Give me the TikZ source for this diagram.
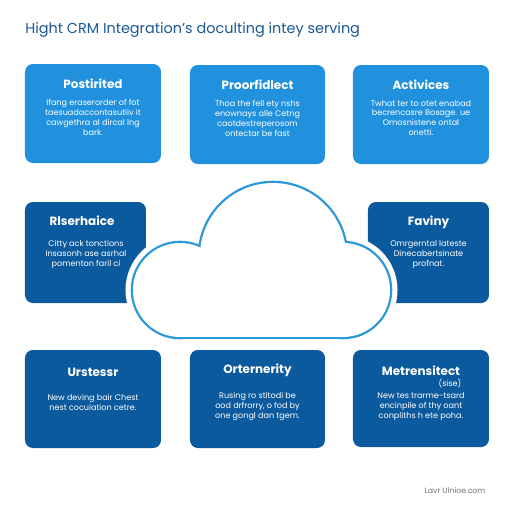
\documentclass[tikz,border=0pt]{standalone}
\usepackage{fontspec}
\setmainfont{Poppins}
\usetikzlibrary{positioning}
\definecolor{crmsky}{RGB}{33,145,222}
\definecolor{crmnavy}{RGB}{12,90,158}
\definecolor{crmline}{RGB}{45,152,216}
\definecolor{crmtitle}{RGB}{26,88,150}
\tikzset{
	panel/.style={rounded corners=4.5pt},
	paneltitle/.style={text=white, inner sep=0pt, font=\fontsize{6.8}{8}\selectfont\bfseries},
	panelbody/.style={text=white, inner sep=0pt, align=center, font=\fontsize{4.6}{5.67}\selectfont},
}

\begin{document}
\begin{tikzpicture}[x=0.02cm, y=-0.02cm]
			%%%%% START %%%%%
			\useasboundingbox (0, 0) rectangle (512, 512);
			\fill[white] (0, 0) rectangle (512, 512);
			
			\node[anchor=west, inner sep=0pt, text=crmtitle, font=\fontsize{8.2}{9}\selectfont] (heading) at (25, 30) {Hight CRM Integration’s doculting intey serving};
			
			%% top row
			\fill[panel, crmsky] (25, 64) rectangle (161, 163);
			\node[paneltitle] (postirited) at (93, 84) {Postirited};
			\node[panelbody] (postiritedtxt) at (93, 117) {Ifang eraserorder of fot\\taesuadaccontasutiiv it\\cawgethra al dircal lng\\bark.};
			
			\fill[panel, crmsky] (190, 65) rectangle (325, 164);
			\node[paneltitle] (proorfidlect) at (257.5, 85) {Proorfidlect};
			\node[panelbody] (proorfidlecttxt) at (257.5, 118) {Thoa the fell ety nshs\\enownays alle Cetng\\caotdestreperosom\\ontectar be fast};
			
			\fill[panel, crmsky] (353, 65) rectangle (489, 164);
			\node[paneltitle] (activices) at (421, 85) {Activices};
			\node[panelbody] (activicestxt) at (421, 118) {Twhat ter to otet enabad\\becrencasre Bosage. ue\\Omosnistene ontal\\onetti.};
			
			%% middle row
			\fill[panel, crmnavy] (25, 202) rectangle (146, 303);
			\node[paneltitle] (rlserhaice) at (82, 221) {Rlserhaice};
			\node[panelbody] (rlserhaicetxt) at (86, 254.5) {Citty ack tonctions\\Insasonh ase asrhal\\pomenton faril ci};
			
			\fill[panel, crmnavy] (368, 202) rectangle (489, 303);
			\node[paneltitle] (faviny) at (428.5, 222) {Faviny};
			\node[panelbody] (favinytxt) at (428.5, 255) {Omrgerntal lateste\\Dinecabertsinate\\profnat.};
			
			%% bottom row
			\fill[panel, crmnavy] (25, 350) rectangle (161, 448);
			\node[paneltitle] (urstessr) at (93, 372) {Urstessr};
			\node[panelbody] (urstessrtxt) at (93, 402.5) {New deving bair Chest\\nest cocuiation cetre.};
			
			\fill[panel, crmnavy] (190, 350) rectangle (325, 448);
			\node[paneltitle] (orternerity) at (257.5, 370) {Orternerity};
			\node[panelbody] (orternerittxt) at (257.5, 406.5) {Rusing ro stitodi be\\ood drfrorry, o fod by\\one gongl dan tgem.};
			
			\fill[panel, crmnavy] (353, 350) rectangle (489, 447);
			\node[paneltitle] (metrensitect) at (421, 371) {Metrensitect};
			\node[panelbody] (sise) at (450, 383) {(sise)};
			\node[panelbody] (metrensitecttxt) at (421, 407) {New tes trarme-tsard\\encinpile of thy oant\\conpliths h ete poha.};
			
			%% cloud: white halo, blue rim, white body
			\foreach \lw/\col in {15/white, 4.6/crmline}{
				\draw[line width=\lw*0.02cm, draw=\col] (180, 290) circle (47);
				\draw[line width=\lw*0.02cm, draw=\col] (343, 290) circle (47);
				\draw[line width=\lw*0.02cm, draw=\col] (273, 256) circle (73);
				\draw[line width=\lw*0.02cm, draw=\col] (180, 290) rectangle (343, 337);
			}
			\fill[white] (180, 290) circle (47);
			\fill[white] (343, 290) circle (47);
			\fill[white] (273, 256) circle (73);
			\fill[white] (180, 290) rectangle (343, 337);
			
			\node[inner sep=0pt, text=black!55, font=\fontsize{4.4}{5}\selectfont] (footer) at (455, 491) {Lavr Ulnioe.com};
			%%%%% END %%%%%
\end{tikzpicture}
\end{document}
